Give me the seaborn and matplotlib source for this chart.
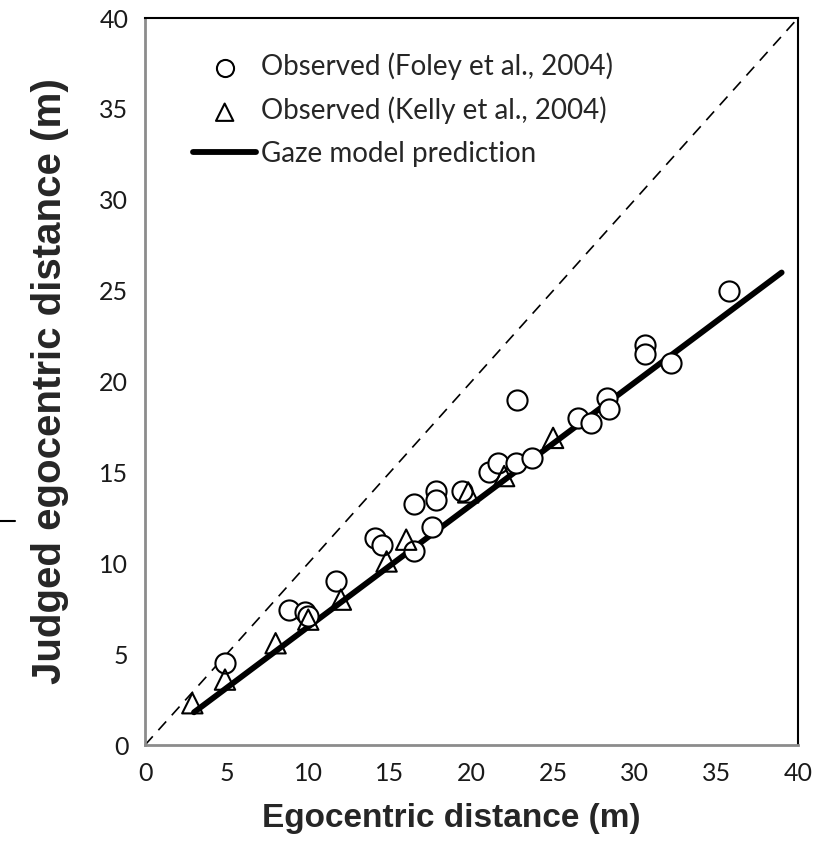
import matplotlib
matplotlib.use("Agg")
import matplotlib.pyplot as plt
from matplotlib.lines import Line2D
import seaborn as sns

# Observed (Foley et al., 2004)
foley_x = [4.9, 8.8, 9.8, 10.0, 11.7, 14.1, 14.5, 16.5, 16.5, 17.6, 17.8, 17.8, 19.4,
           21.1, 21.6, 22.7, 22.8, 23.7, 26.5, 27.3, 28.3, 28.4, 30.6, 30.6, 32.2, 35.8]
foley_y = [4.5, 7.45, 7.3, 7.1, 9.0, 11.4, 11.0, 10.7, 13.25, 12.0, 14.0, 13.5, 14.0,
           15.0, 15.5, 15.5, 19.0, 15.8, 18.0, 17.7, 19.1, 18.5, 22.0, 21.5, 21.0, 25.0]

# Observed (Kelly et al., 2004)
kelly_x = [2.9, 4.9, 8.0, 10.0, 12.0, 14.8, 16.0, 19.8, 22.0, 25.0]
kelly_y = [2.3, 3.6, 5.6, 6.9, 8.0, 10.1, 11.3, 13.9, 14.8, 16.9]

# Gaze model prediction
model_x = [3.0, 39.0]
model_y = [1.8, 26.0]

# Identity line
ident_x = [0, 40]
ident_y = [0, 40]

ticks = [0, 5, 10, 15, 20, 25, 30, 35, 40]

sns.set_style("white")
plt.rcParams['font.family'] = ['Lato', 'DejaVu Sans']

fig = plt.figure(figsize=(8.3, 8.61), dpi=100)
ax = fig.add_axes([0.1747, 0.1347, 0.9614 - 0.1747, 0.979 - 0.1347])

sns.lineplot(x=ident_x, y=ident_y, ax=ax, color="black", linewidth=1.2,
             linestyle=(0, (7, 5)), zorder=1)
sns.lineplot(x=model_x, y=model_y, ax=ax, color="black", linewidth=4.2,
             zorder=2, label="Gaze model prediction")
sns.scatterplot(x=foley_x, y=foley_y, ax=ax, marker="o", s=210, facecolor="white",
                edgecolor="black", linewidth=1.5, zorder=3,
                label="Observed (Foley et al., 2004)")
sns.scatterplot(x=kelly_x, y=kelly_y, ax=ax, marker="^", s=215, facecolor="none",
                edgecolor="black", linewidth=1.5, zorder=4,
                label="Observed (Kelly et al., 2004)")

ax.set_xlim(0, 40)
ax.set_ylim(0, 40)
ax.set_xticks(ticks)
ax.set_yticks(ticks)
ax.set_xticklabels([str(t) for t in ticks])
ax.set_yticklabels([str(t) for t in ticks])
ax.tick_params(axis="both", direction="out", length=7, width=1.5, color="#8c8c8c",
               labelsize=18, labelcolor="#1a1a1a", pad=5)

for side in ["left", "bottom"]:
    ax.spines[side].set_color("#8c8c8c")
    ax.spines[side].set_linewidth(2)
for side in ["top", "right"]:
    ax.spines[side].set_color("black")
    ax.spines[side].set_linewidth(1.5)

ax.set_xlabel("Egocentric distance (m)", fontsize=24, fontweight="bold",
              family=["Liberation Sans", "DejaVu Sans"], labelpad=13)
ax.xaxis.label.set_x(0.4686)
ax.set_ylabel("Judged egocentric distance (m)", fontsize=29, fontweight="bold",
              family=["Liberation Sans", "DejaVu Sans"], labelpad=22)

handles, labels = ax.get_legend_handles_labels()
order = [labels.index("Observed (Foley et al., 2004)"),
         labels.index("Observed (Kelly et al., 2004)"),
         labels.index("Gaze model prediction")]
leg = ax.legend([handles[i] for i in order], [labels[i] for i in order],
                loc="upper left", bbox_to_anchor=(0.0735, 0.9525), frameon=False,
                fontsize=20, handlelength=2.28, handletextpad=0.18,
                labelspacing=0.60, markerscale=0.85, borderpad=0, borderaxespad=0)

# small stray tick mark at the left edge of the reference image
fig.add_artist(Line2D([0.0, 0.018], [1 - 521 / 861, 1 - 521 / 861],
                      transform=fig.transFigure, color="black", linewidth=1.5))

fig.savefig("out.png", dpi=100)
